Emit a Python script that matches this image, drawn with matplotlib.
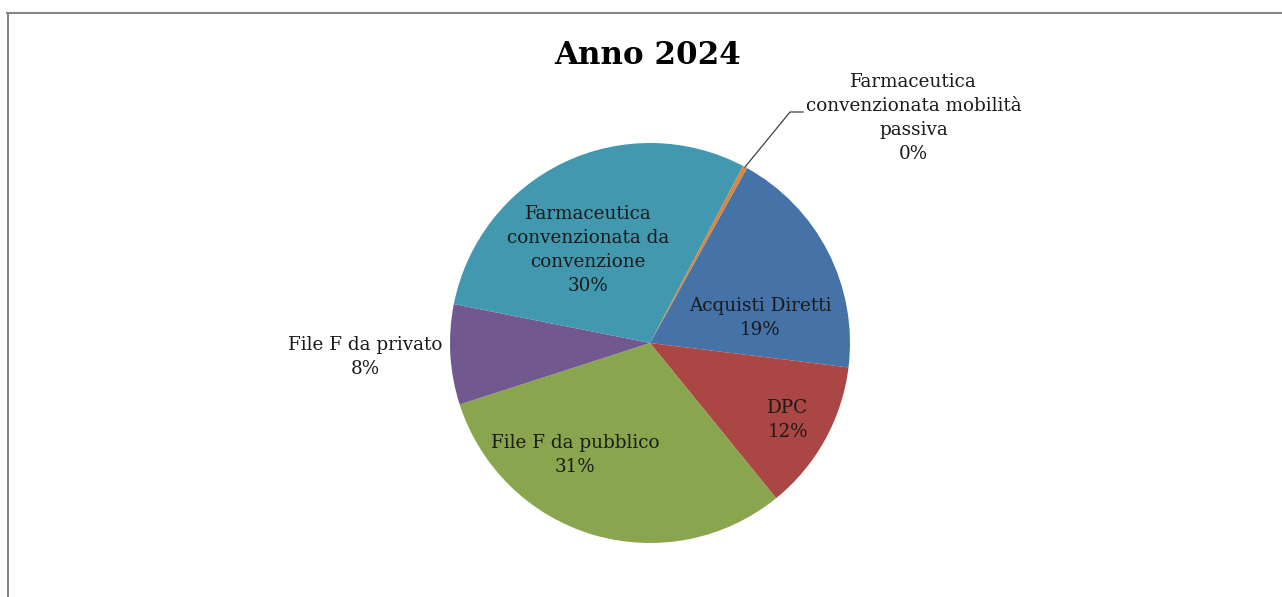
import numpy as np
import matplotlib.pyplot as plt
from matplotlib.lines import Line2D

# Data
categories = ['Acquisti Diretti', 'DPC', 'File F da pubblico', 'File F da privato',
              'Farmaceutica\nconvenzionata da\nconvenzione',
              'Farmaceutica\nconvenzionata mobilità\npassiva']
values = [18.9, 12.2, 30.9, 8.1, 29.6, 0.35]
colors = ['#4572A7', '#AA4643', '#89A54E', '#71588F', '#4198AF', '#DB843D']

# Label positions (data units, pie radius = 1)
label_pos = [(0.55, 0.125), (0.69, -0.385), (-0.375, -0.56), (-1.425, -0.07),
             (-0.31, 0.465), (1.318, 1.125)]

W, H = 1282, 597
fig = plt.figure(figsize=(W / 100, H / 100), dpi=100)
plt.rcParams['font.family'] = ['DejaVu Serif']

cx, cy, r = 650, 343, 200
ax = fig.add_axes([(cx - r) / W, (H - cy - r) / H, 2 * r / W, 2 * r / H])
wedges, _ = ax.pie(values, colors=colors, startangle=61, counterclock=False, radius=1,
                   wedgeprops=dict(linewidth=0))
ax.set_xlim(-1, 1)
ax.set_ylim(-1, 1)
ax.set_aspect('equal')
ax.axis('off')

total = sum(values)
for lab, v, (x, y) in zip(categories, values, label_pos):
    ax.text(x, y, '{}\n{:.0f}%'.format(lab, 100 * v / total), ha='center', va='center',
            fontsize=13.2, color='#1a1a1a', linespacing=1.42, clip_on=False)

# Leader line for the tiny slice
w = wedges[-1]
mid = np.deg2rad((w.theta1 + w.theta2) / 2)
ex, ey = np.cos(mid), np.sin(mid)
ax.add_line(Line2D([ex, 0.7, 0.765], [ey, 1.155, 1.155], color='#404040', lw=0.9,
                   clip_on=False))

fig.text(648 / W, 1 - 56 / H, 'Anno 2024', ha='center', va='center', fontsize=22.3,
         fontweight='bold', color='black')

# Chart frame
fig.add_artist(Line2D([7 / W, 1], [1 - 12.5 / H, 1 - 12.5 / H], color='#868686', lw=1.5,
                      transform=fig.transFigure))
fig.add_artist(Line2D([7.5 / W, 7.5 / W], [0, 1 - 12.5 / H], color='#868686', lw=1.5,
                      transform=fig.transFigure))

plt.savefig('out.png', dpi=100)
